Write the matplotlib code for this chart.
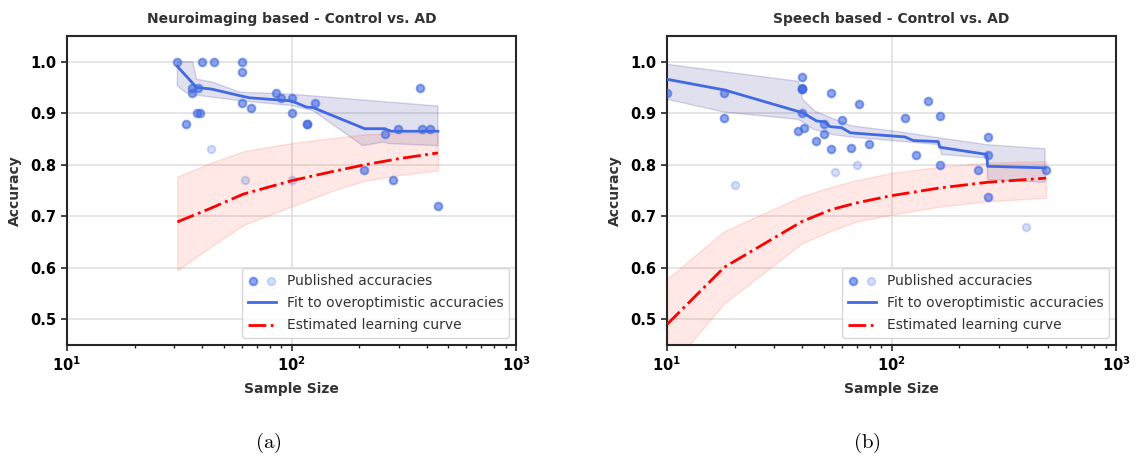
import numpy as np
import matplotlib
matplotlib.use('Agg')
import matplotlib.pyplot as plt
from matplotlib.legend_handler import HandlerTuple
from matplotlib.ticker import LogLocator, NullFormatter

plt.rcParams['font.family'] = ['DejaVu Sans']
plt.rcParams['axes.edgecolor'] = '#262626'
plt.rcParams['axes.linewidth'] = 1.5

# ---- Neuroimaging based: published accuracies ----
neuro_n = [31, 40, 45, 60, 60, 36, 36, 38.5, 34, 38, 39, 60, 66, 85, 90,
           100, 100, 117, 117, 127, 211, 261, 282, 299, 372, 381, 416, 449]
neuro_acc = [1.0, 1.0, 1.0, 1.0, 0.98, 0.95, 0.94, 0.95, 0.88, 0.90, 0.90, 0.92, 0.91, 0.94, 0.93,
             0.93, 0.90, 0.88, 0.88, 0.92, 0.79, 0.86, 0.77, 0.87, 0.95, 0.87, 0.87, 0.72]
neuro_faint_n = [44, 62, 100]
neuro_faint_acc = [0.83, 0.77, 0.77]

# fit to overoptimistic accuracies and its band
neuro_fit_n = [31, 37.8, 44, 59, 65, 100, 116.6, 124.7, 212, 260, 278, 449]
neuro_fit_acc = [0.991, 0.950, 0.947, 0.934, 0.930, 0.924, 0.912, 0.911, 0.870, 0.870, 0.865, 0.865]
neuro_fit_hi_n = [31, 36.3, 37.8, 44, 59, 100, 449]
neuro_fit_hi = [1.0, 1.0, 0.966, 0.961, 0.941, 0.937, 0.914]
neuro_fit_lo_n = [31, 33.6, 37.8, 60, 100, 124.7, 208, 255, 273, 449]
neuro_fit_lo = [0.953, 0.941, 0.935, 0.924, 0.915, 0.905, 0.837, 0.844, 0.841, 0.837]

# estimated learning curve and its band
neuro_lc_n = [31, 43.4, 61, 100, 153, 212, 303, 449]
neuro_lc = [0.689, 0.715, 0.743, 0.769, 0.787, 0.800, 0.812, 0.823]
neuro_lc_hi = [0.777, 0.803, 0.826, 0.842, 0.852, 0.859, 0.861, 0.861]
neuro_lc_lo = [0.595, 0.640, 0.683, 0.719, 0.750, 0.769, 0.780, 0.789]

# ---- Speech based: published accuracies ----
speech_n = [10, 18, 18, 40, 40, 40, 40, 40, 38.2, 40.9, 46.3, 50, 50, 54, 54, 60, 66, 72,
            79, 115, 128, 146, 164, 165, 244, 268, 268, 268, 488]
speech_acc = [0.94, 0.94, 0.89, 0.97, 0.95, 0.948, 0.947, 0.90, 0.866, 0.871, 0.846, 0.88, 0.86, 0.94,
              0.831, 0.886, 0.833, 0.917, 0.841, 0.89, 0.818, 0.923, 0.895, 0.80, 0.79, 0.854,
              0.819, 0.737, 0.79]
speech_faint_n = [20, 56, 70, 399]
speech_faint_acc = [0.76, 0.786, 0.80, 0.68]

speech_fit_n = [10, 18.1, 40.2, 46.4, 50.6, 53.2, 60, 65.6, 114.8, 125.2, 161.5, 164, 266, 268, 483]
speech_fit_acc = [0.966, 0.945, 0.901, 0.885, 0.883, 0.874, 0.872, 0.862, 0.854, 0.847, 0.845,
                  0.834, 0.820, 0.797, 0.794]
speech_fit_hi_n = [10, 38.5, 40.2, 45.6, 65.6, 117, 164, 266, 483]
speech_fit_hi = [0.995, 0.962, 0.927, 0.904, 0.876, 0.862, 0.852, 0.839, 0.831]
speech_fit_lo_n = [10, 18.1, 38.5, 44.9, 54.1, 65.6, 164, 166.8, 266, 268, 483]
speech_fit_lo = [0.927, 0.902, 0.888, 0.869, 0.859, 0.854, 0.839, 0.820, 0.813, 0.771, 0.766]

speech_lc_n = [10, 18, 40, 54, 70, 100, 164, 268, 488]
speech_lc = [0.490, 0.601, 0.690, 0.713, 0.726, 0.740, 0.755, 0.766, 0.774]
speech_lc_hi = [0.578, 0.671, 0.739, 0.757, 0.770, 0.784, 0.796, 0.804, 0.807]
speech_lc_lo = [0.400, 0.531, 0.648, 0.672, 0.690, 0.703, 0.719, 0.729, 0.736]

y_ticks = [0.5, 0.6, 0.7, 0.8, 0.9, 1.0]
x_ticks = [10, 100, 1000]
x_ticklabels = [r'$\mathbf{10^{1}}$', r'$\mathbf{10^{2}}$', r'$\mathbf{10^{3}}$']

BLUE = '#4169e1'
LABEL_COLOR = '#333333'


def draw_panel(ax, title, n, acc, faint_n, faint_acc, fit_n, fit_acc,
               hi_n, hi, lo_n, lo, lc_n, lc, lc_hi, lc_lo):
    ax.set_xscale('log')
    ax.set_xlim(10, 1000)
    ax.set_ylim(0.45, 1.05)
    ax.grid(True, which='major', color='#e3e3e3', lw=1.3, zorder=0)
    ax.set_axisbelow(True)

    # bands
    ax.fill(np.r_[hi_n, lo_n[::-1]], np.r_[hi, lo[::-1]], facecolor=(0.0, 0.0, 0.5, 0.12),
            edgecolor=(0.0, 0.0, 0.5, 0.15), lw=1, zorder=1)
    ax.fill_between(lc_n, lc_lo, lc_hi, facecolor=(1.0, 0.39, 0.28, 0.14),
                    edgecolor=(1.0, 0.39, 0.28, 0.18), lw=1, zorder=1)

    sc1 = ax.scatter(n, acc, s=30, color=BLUE, alpha=0.6, lw=1.5, zorder=3)
    sc2 = ax.scatter(faint_n, faint_acc, s=30, color=BLUE, alpha=0.22, lw=1.5, zorder=3)
    fit_line, = ax.plot(fit_n, fit_acc, color=BLUE, lw=2, zorder=4)
    lc_line, = ax.plot(lc_n, lc, color='red', lw=2, ls='-.', zorder=4)

    ax.set_xticks(x_ticks)
    ax.set_xticklabels(x_ticklabels)
    ax.xaxis.set_minor_locator(LogLocator(base=10, subs=np.arange(2, 10)))
    ax.xaxis.set_minor_formatter(NullFormatter())
    ax.set_yticks(y_ticks)
    ax.set_yticklabels([f'{v:.1f}' for v in y_ticks], fontweight='bold')
    ax.tick_params(axis='both', which='major', labelsize=10.5, length=4, width=1.2, color='#262626')
    ax.tick_params(axis='x', which='minor', length=2.5, width=1, color='#262626')

    ax.set_title(title, fontsize=10, fontweight='bold', color=LABEL_COLOR, pad=9.5)
    ax.set_xlabel('Sample Size', fontsize=10, fontweight='bold', color=LABEL_COLOR, labelpad=6)
    ax.set_ylabel('Accuracy', fontsize=10, fontweight='bold', color=LABEL_COLOR, labelpad=6)

    leg = ax.legend([(sc1, sc2), fit_line, lc_line],
                    ['Published accuracies', 'Fit to overoptimistic accuracies',
                     'Estimated learning curve'],
                    handler_map={tuple: HandlerTuple(ndivide=None, pad=0.6)},
                    loc='lower right', fontsize=10, framealpha=0.85, edgecolor='#d0d0d0',
                    borderpad=0.4, labelspacing=0.6)
    for t in leg.get_texts():
        t.set_color(LABEL_COLOR)


fig = plt.figure(figsize=(11.36, 4.57), dpi=100)
ax1 = fig.add_axes([67 / 1136, 112 / 457, 449 / 1136, 309 / 457])
ax2 = fig.add_axes([667 / 1136, 112 / 457, 449 / 1136, 309 / 457])

draw_panel(ax1, 'Neuroimaging based - Control vs. AD', neuro_n, neuro_acc, neuro_faint_n,
           neuro_faint_acc, neuro_fit_n, neuro_fit_acc, neuro_fit_hi_n, neuro_fit_hi,
           neuro_fit_lo_n, neuro_fit_lo, neuro_lc_n, neuro_lc, neuro_lc_hi, neuro_lc_lo)
draw_panel(ax2, 'Speech based - Control vs. AD', speech_n, speech_acc, speech_faint_n,
           speech_faint_acc, speech_fit_n, speech_fit_acc, speech_fit_hi_n, speech_fit_hi,
           speech_fit_lo_n, speech_fit_lo, speech_lc_n, speech_lc, speech_lc_hi, speech_lc_lo)

# subfigure captions
fig.text(268 / 1136, 1 - 443 / 457, r'$\mathrm{(a)}$', math_fontfamily='cm', fontsize=15,
         ha='center', va='center')
fig.text(867 / 1136, 1 - 443 / 457, r'$\mathrm{(b)}$', math_fontfamily='cm', fontsize=15,
         ha='center', va='center')

fig.savefig('out.png', dpi=100)
